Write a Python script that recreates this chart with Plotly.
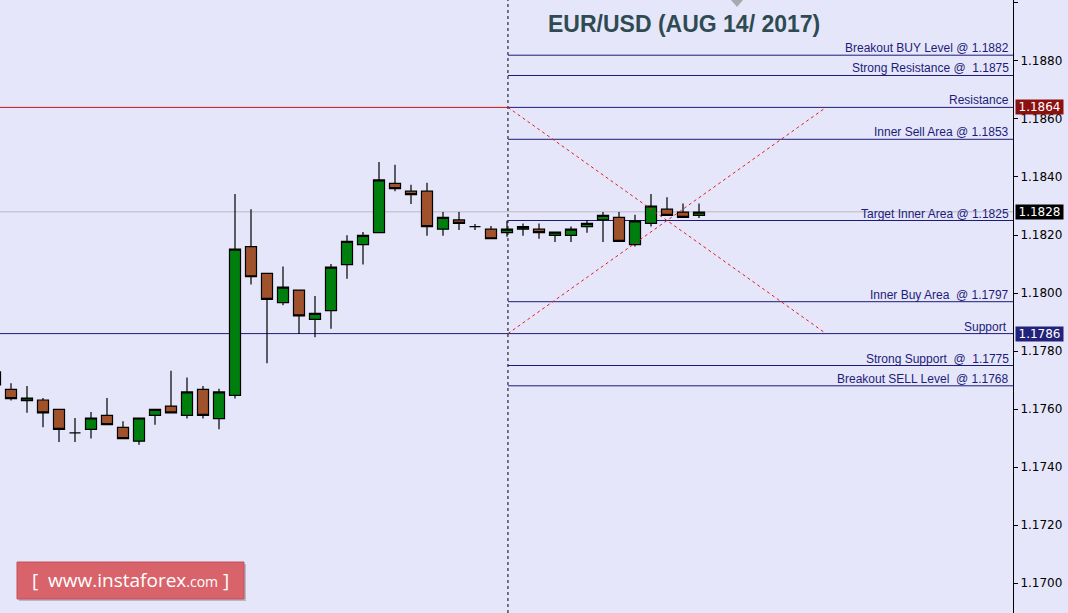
import plotly.graph_objects as go

# ---------------- data ----------------
candle_idx = list(range(45))
opens = [1.17728, 1.17668, 1.17629, 1.17631, 1.17599, 1.17518, 1.17530, 1.17578, 1.17537, 1.17489,
         1.17578, 1.17610, 1.17578, 1.17668, 1.17567, 1.17647, 1.18160, 1.18068, 1.17967, 1.18010,
         1.17909, 1.17939, 1.18098, 1.18167, 1.18208, 1.18378, 1.18351, 1.18351, 1.18220, 1.18252,
         1.18229, 1.18220, 1.18208, 1.18220, 1.18220, 1.18199, 1.18199, 1.18229, 1.18252, 1.18261,
         1.18167, 1.18240, 1.18289, 1.18279, 1.18268]
highs = [1.17752, 1.17689, 1.17679, 1.17638, 1.17600, 1.17569, 1.17590, 1.17638, 1.17558, 1.17569,
         1.17599, 1.17732, 1.17709, 1.17679, 1.17670, 1.18341, 1.18289, 1.18068, 1.18091, 1.18010,
         1.17990, 1.18100, 1.18199, 1.18210, 1.18452, 1.18442, 1.18373, 1.18380, 1.18279, 1.18279,
         1.18238, 1.18231, 1.18249, 1.18240, 1.18240, 1.18210, 1.18229, 1.18252, 1.18279, 1.18279,
         1.18270, 1.18341, 1.18330, 1.18309, 1.18309]
lows = [1.17676, 1.17629, 1.17587, 1.17537, 1.17486, 1.17486, 1.17498, 1.17546, 1.17498, 1.17477,
        1.17546, 1.17587, 1.17567, 1.17567, 1.17530, 1.17636, 1.18029, 1.17758, 1.17958, 1.17859,
        1.17847, 1.17877, 1.18049, 1.18098, 1.18208, 1.18351, 1.18307, 1.18197, 1.18197, 1.18217,
        1.18217, 1.18187, 1.18194, 1.18197, 1.18187, 1.18176, 1.18176, 1.18208, 1.18176, 1.18178,
        1.18160, 1.18229, 1.18268, 1.18261, 1.18259]
closes = [1.17683, 1.17636, 1.17638, 1.17587, 1.17530, 1.17518, 1.17569, 1.17546, 1.17498, 1.17569,
          1.17599, 1.17587, 1.17659, 1.17578, 1.17659, 1.18151, 1.18056, 1.17978, 1.18020, 1.17921,
          1.17930, 1.18089, 1.18178, 1.18199, 1.18390, 1.18360, 1.18339, 1.18229, 1.18261, 1.18240,
          1.18229, 1.18187, 1.18220, 1.18229, 1.18208, 1.18210, 1.18220, 1.18240, 1.18268, 1.18178,
          1.18249, 1.18300, 1.18268, 1.18261, 1.18279]

level_values = [1.1882, 1.1875, 1.1864, 1.1853, 1.1825, 1.1797, 1.1786, 1.1775, 1.1768]
level_labels = ["Breakout BUY Level @ 1.1882", "Strong Resistance @  1.1875", "Resistance",
                "Inner Sell Area @ 1.1853", "Target Inner Area @ 1.1825", "Inner Buy Area  @ 1.1797",
                "Support ", "Strong Support  @  1.1775", "Breakout SELL Level  @ 1.1768"]
resistance = 1.1864
support = 1.1786
current_price = 1.1828
tag_values = [1.1864, 1.1828, 1.1786]
tag_labels = ["1.1864", "1.1828", "1.1786"]
tick_values = [1.1700, 1.1720, 1.1740, 1.1760, 1.1780, 1.1800, 1.1820, 1.1840, 1.1860, 1.1880, 1.1900]
tick_labels = ["1.1700", "1.1720", "1.1740", "1.1760", "1.1780", "1.1800", "1.1820", "1.1840",
               "1.1860", "1.1880", "1.1900"]
title_text = "EUR/USD (AUG 14/ 2017)"
session_start = 32.06   # index where the day's projection starts
cross_end = 51.94

# ---------------- layout constants ----------------
W, H = 1068, 613
R = 55
PW = W - R
X_RANGE = [0.3125, 63.625]
Y_RANGE = [1.190103, 1.168966]
BG = "#e6e6fa"
NAVY = "#1c1c78"
TAG_COLORS = ["#8b1010", "#000000", "#22227a"]

def px_x(p):
    return p / PW

def px_y(p):
    return 1 - p / H

fig = go.Figure()

fig.add_trace(go.Candlestick(
    x=candle_idx, open=opens, high=highs, low=lows, close=closes,
    increasing=dict(fillcolor="#007f0e", line=dict(color="#000000", width=1.2)),
    decreasing=dict(fillcolor="#a0522d", line=dict(color="#000000", width=1.2)),
    whiskerwidth=0, hoverinfo="skip", showlegend=False,
))

shapes = []
shapes.append(dict(type="line", xref="x", yref="y", x0=X_RANGE[0], x1=X_RANGE[1],
                   y0=current_price, y1=current_price, line=dict(color="#b8b8c4", width=1), layer="below"))
shapes.append(dict(type="line", xref="x", yref="y", x0=X_RANGE[0], x1=session_start,
                   y0=resistance, y1=resistance, line=dict(color="#c01818", width=1), layer="below"))
shapes.append(dict(type="line", xref="x", yref="y", x0=X_RANGE[0], x1=session_start,
                   y0=support, y1=support, line=dict(color=NAVY, width=1), layer="below"))
for v in level_values:
    shapes.append(dict(type="line", xref="x", yref="y", x0=session_start, x1=X_RANGE[1],
                       y0=v, y1=v, line=dict(color=NAVY, width=1), layer="below"))
shapes.append(dict(type="line", xref="x", yref="paper", x0=session_start, x1=session_start,
                   y0=0, y1=1, line=dict(color="#000000", width=1, dash="3px,3px"), layer="below"))
shapes.append(dict(type="line", xref="x", yref="y", x0=session_start, x1=cross_end,
                   y0=resistance, y1=support, line=dict(color="#e02020", width=1, dash="3px,3px")))
shapes.append(dict(type="line", xref="x", yref="y", x0=session_start, x1=cross_end,
                   y0=support, y1=resistance, line=dict(color="#e02020", width=1, dash="3px,3px")))
shapes.append(dict(type="path", xref="paper", yref="paper",
                   path=f"M {px_x(731)},{px_y(0)} L {px_x(743)},{px_y(0)} L {px_x(737)},{px_y(7)} Z",
                   fillcolor="#a8a8b0", line=dict(width=0)))
shapes.append(dict(type="rect", xref="paper", yref="paper",
                   x0=px_x(19), x1=px_x(246), y0=px_y(601), y1=px_y(564),
                   fillcolor="#b8b8c8", line=dict(width=0)))
shapes.append(dict(type="rect", xref="paper", yref="paper",
                   x0=px_x(17), x1=px_x(244), y0=px_y(599), y1=px_y(562),
                   fillcolor="#d9636b", line=dict(color="#c55058", width=1)))

annotations = []
for v, t in zip(level_values, level_labels):
    annotations.append(dict(xref="paper", yref="y", x=px_x(1011), y=v, text=t, showarrow=False,
                            xanchor="right", yanchor="bottom", yshift=-2,
                            font=dict(family="Liberation Sans", size=12, color="#1c1c78")))
for v, t, c in zip(tag_values, tag_labels, TAG_COLORS):
    annotations.append(dict(xref="paper", yref="y", x=px_x(1015), y=v, text=t, showarrow=False,
                            xanchor="left", yanchor="middle", bgcolor=c, borderpad=0, width=47,
                            font=dict(family="DejaVu Sans", size=12, color="#ffffff")))
annotations.append(dict(xref="paper", yref="paper", x=px_x(684), y=px_y(24), text=f"<b>{title_text}</b>",
                        showarrow=False, xanchor="center", yanchor="middle",
                        font=dict(family="Liberation Sans", size=23, color="#2f4b52")))
annotations.append(dict(xref="paper", yref="paper", x=px_x(130), y=px_y(580),
                        text="[  www.instaforex<span style='font-size:14px'>.com</span> ]",
                        showarrow=False, xanchor="center", yanchor="middle",
                        font=dict(family="Open Sans", size=19, color="#ffffff")))

fig.update_layout(
    width=W, height=H,
    margin=dict(l=0, r=R, t=0, b=0),
    paper_bgcolor=BG, plot_bgcolor=BG,
    showlegend=False,
    boxgap=0.31, boxgroupgap=0,
    shapes=shapes, annotations=annotations,
    xaxis=dict(range=X_RANGE, showgrid=False, zeroline=False, showticklabels=False,
               showline=False, ticks="", rangeslider=dict(visible=False), fixedrange=True),
    yaxis=dict(range=Y_RANGE[::-1], side="right", showgrid=False, zeroline=False,
               tickvals=tick_values, ticktext=tick_labels, ticks="outside", ticklen=4,
               tickcolor="#000000", showline=True, linecolor="#000000", linewidth=1,
               tickfont=dict(family="DejaVu Sans", size=12, color="#000000"), fixedrange=True),
    dragmode=False,
)

fig.write_html("out.html", config={"displayModeBar": False},
               post_script="document.body.style.margin='0';document.body.style.overflow='hidden';")
